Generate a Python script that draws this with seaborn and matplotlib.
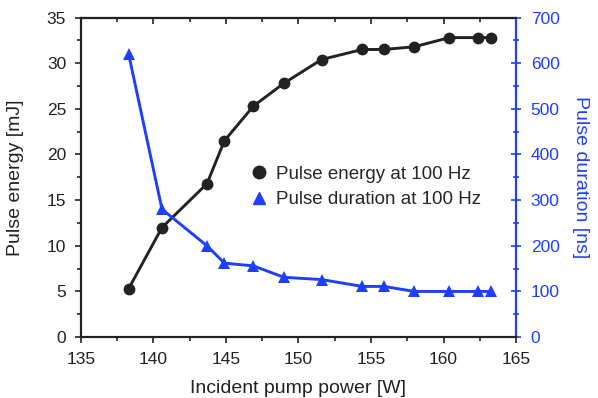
import matplotlib
matplotlib.use("Agg")
import matplotlib.pyplot as plt
import seaborn as sns
import pandas as pd
from matplotlib.lines import Line2D
from matplotlib.ticker import MultipleLocator

sns.set_theme(style="ticks")
plt.rcParams['font.family'] = ['Liberation Sans', 'DejaVu Sans']

power = [138.3, 140.6, 143.7, 144.9, 146.9, 149.0, 151.6, 154.4, 155.9, 158.0, 160.4, 162.4, 163.3]
energy = [5.3, 12.0, 16.8, 21.5, 25.3, 27.8, 30.4, 31.5, 31.5, 31.8, 32.8, 32.8, 32.8]
duration = [620, 280, 200, 162, 156, 131, 126, 111, 111, 100, 100, 100, 100]

df = pd.DataFrame({"power": power, "energy": energy, "duration": duration})

black = "#222222"
blue = "#1f3fff"

fig = plt.figure(figsize=(5.98, 3.98), dpi=100)
ax = fig.add_axes([0.135, 0.153, 0.728, 0.803])
ax2 = ax.twinx()

sns.lineplot(data=df, x="power", y="energy", ax=ax, color=black, lw=2.1,
             marker="o", markersize=8.5, markeredgewidth=0, legend=False)
sns.lineplot(data=df, x="power", y="duration", ax=ax2, color=blue, lw=2.1,
             marker="^", markersize=9, markeredgewidth=0, legend=False)

ax.set_xlim(135, 165)
ax.set_ylim(0, 35)
ax2.set_ylim(0, 700)
ax.xaxis.set_major_locator(MultipleLocator(5))
ax.xaxis.set_minor_locator(MultipleLocator(2.5))
ax.yaxis.set_major_locator(MultipleLocator(5))
ax.yaxis.set_minor_locator(MultipleLocator(2.5))
ax2.yaxis.set_major_locator(MultipleLocator(100))
ax2.yaxis.set_minor_locator(MultipleLocator(50))

ax.set_xlabel("Incident pump power [W]", fontsize=14, color=black, va="center")
ax.set_ylabel("Pulse energy [mJ]", fontsize=14, color=black, va="center")
ax2.set_ylabel("Pulse duration [ns]", fontsize=14, color=blue, rotation=270, va="center")
ax.xaxis.set_label_coords(0.5, -0.16)
ax.yaxis.set_label_coords(-0.149, 0.5)
ax2.yaxis.set_label_coords(1.147, 0.5)

for a in (ax, ax2):
    for s in a.spines.values():
        s.set_visible(True)
        s.set_linewidth(1.5)
        s.set_color(black)
ax2.spines["right"].set_color(blue)

# left/bottom out, top in, right crossing
ax.tick_params(axis="both", which="major", direction="out", length=4.5, width=1.2,
               labelsize=12.5, colors=black, pad=6)
ax.tick_params(axis="both", which="minor", direction="out", length=3, width=1.2,
               colors=black)
ax.tick_params(axis="y", which="both", right=False)
ax.tick_params(axis="x", which="both", top=False)

top = ax.secondary_xaxis("top")
top.xaxis.set_major_locator(MultipleLocator(5))
top.xaxis.set_minor_locator(MultipleLocator(2.5))
top.tick_params(which="major", direction="in", length=4.5, width=1.2, labeltop=False, colors=black)
top.tick_params(which="minor", direction="in", length=3, width=1.2, colors=black)
top.spines["top"].set_linewidth(1.5)
top.spines["top"].set_color(black)

ax2.tick_params(axis="y", which="major", direction="inout", length=7, width=1.2,
                labelsize=12.5, colors=blue, pad=7)
ax2.tick_params(axis="y", which="minor", direction="inout", length=4.5, width=1.2,
                colors=blue)

handles = [Line2D([], [], ls="none", marker="o", color=black, markersize=9),
           Line2D([], [], ls="none", marker="^", color=blue, markersize=9)]
ax.legend(handles, ["Pulse energy at 100 Hz", "Pulse duration at 100 Hz"],
          loc="center left", bbox_to_anchor=(0.35, 0.47), frameon=False,
          fontsize=13.5, handlelength=1, handletextpad=0.4, labelspacing=0.45)

fig.savefig("out.png", dpi=100)
